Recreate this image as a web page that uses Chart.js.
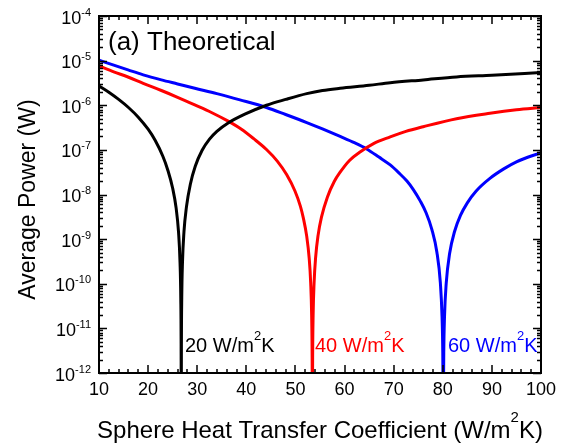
<!DOCTYPE html>
<html>
<head>
<meta charset="utf-8">
<script src="https://cdn.jsdelivr.net/npm/chart.js@4.4.0/dist/chart.umd.min.js"></script>
<style>
  html, body { margin: 0; padding: 0; background: #fff; }
</style>
</head>
<body>
<canvas id="powerChart" width="571" height="444"></canvas>
<script>
// Sphere heat transfer coefficient (W/m^2K) and average power (W)
const h20 = [10, 12, 14, 16, 18, 20, 21.4, 23, 24, 25, 25.7, 26.2, 26.5, 26.65, 26.72, 26.75, 26.78, 26.85, 27.0, 27.3, 27.8, 28.6, 29.6, 31, 32.5, 34, 36.3, 39.7, 44.1, 48, 52.3, 55.5, 59.1, 65, 69.3, 76, 82.8, 90, 100];
const p20 = [2.7e-6, 1.95e-6, 1.35e-6, 8.9e-7, 5.4e-7, 2.9e-7, 1.66e-7, 7.2e-8, 3.55e-8, 1.38e-8, 5.0e-9, 1.41e-9, 3.0e-10, 4.8e-11, 4.3e-12, 1e-13, 4.3e-12, 4.8e-11, 3.0e-10, 1.45e-9, 5.2e-9, 1.7e-8, 4.3e-8, 9.8e-8, 1.74e-7, 2.6e-7, 4.0e-7, 6.3e-7, 1.0e-6, 1.35e-6, 1.82e-6, 2.14e-6, 2.4e-6, 2.8e-6, 3.2e-6, 3.7e-6, 4.3e-6, 4.7e-6, 5.4e-6];

const h40 = [10, 13, 15.9, 19, 22.7, 26, 29.5, 33, 36.3, 39, 41.5, 44.1, 46.3, 48.2, 49.9, 51, 51.6, 52.3, 52.8, 53.1, 53.3, 53.4, 53.45, 53.5, 53.6, 53.8, 54.1, 54.6, 55.3, 56.5, 57.9, 59.1, 61, 63, 65.9, 69.3, 72.5, 76, 82.8, 89.6, 95, 100];
const p40 = [7.6e-6, 5.6e-6, 4.3e-6, 3.1e-6, 2.14e-6, 1.51e-6, 1.02e-6, 6.8e-7, 4.4e-7, 2.9e-7, 1.78e-7, 1.02e-7, 5.6e-8, 2.8e-8, 1.2e-8, 5.5e-9, 3.0e-9, 1.15e-9, 3.7e-10, 1.07e-10, 1.95e-11, 2.2e-12, 1e-13, 2.2e-12, 1.95e-11, 1.07e-10, 3.8e-10, 1.2e-9, 3.1e-9, 8.7e-9, 1.95e-8, 3.16e-8, 5.8e-8, 8.7e-8, 1.38e-7, 1.95e-7, 2.6e-7, 3.3e-7, 5.0e-7, 6.6e-7, 7.9e-7, 8.9e-7];

const h60 = [10, 13, 15.9, 19, 22.7, 26, 29.5, 34, 38.7, 44.1, 48, 52.3, 55.5, 59.1, 62, 64.5, 67, 69.3, 71, 72.7, 74, 75.4, 76.6, 77.8, 78.8, 79.5, 79.85, 80.0, 80.1, 80.2, 80.35, 80.7, 81.4, 82.4, 83.6, 85, 86.8, 89.6, 92.5, 95, 100];
const p60 = [1.02e-5, 7.9e-6, 6.2e-6, 4.8e-6, 3.7e-6, 3.0e-6, 2.4e-6, 1.82e-6, 1.32e-6, 8.9e-7, 6.2e-7, 4.1e-7, 2.95e-7, 2.0e-7, 1.45e-7, 1.05e-7, 6.9e-8, 4.6e-8, 3.1e-8, 2.0e-8, 1.29e-8, 7.2e-9, 3.9e-9, 1.62e-9, 5.1e-10, 1.07e-10, 1.82e-11, 2.9e-12, 1e-13, 2.8e-12, 1.78e-11, 1.02e-10, 4.8e-10, 1.48e-9, 3.4e-9, 6.5e-9, 1.2e-8, 2.3e-8, 3.8e-8, 5.4e-8, 8.7e-8];

const xTicks = [10, 20, 30, 40, 50, 60, 70, 80, 90, 100];
const yExponents = [-12, -11, -10, -9, -8, -7, -6, -5, -4];

const FONT = 'Arial, "Liberation Sans", sans-serif';

function toPoints(xs, ys) {
    return xs.map((x, i) => ({ x: x, y: ys[i] }));
}

// draws a run of text pieces [text, size, rise] one after another
function drawRich(ctx, pieces, x, y, align) {
    let w = 0;
    pieces.forEach(p => {
        ctx.font = p[1] + 'px ' + FONT;
        w += ctx.measureText(p[0]).width;
    });
    let cx = align === 'center' ? x - w / 2 : (align === 'right' ? x - w : x);
    ctx.textAlign = 'left';
    ctx.textBaseline = 'alphabetic';
    pieces.forEach(p => {
        ctx.font = p[1] + 'px ' + FONT;
        ctx.fillText(p[0], cx, y - p[2]);
        cx += ctx.measureText(p[0]).width;
    });
}

const framePlugin = {
    id: 'framePlugin',
    afterDatasetsDraw(chart) {
        const ctx = chart.ctx;
        const a = chart.chartArea;
        const xs = chart.scales.x;
        const ys = chart.scales.y;
        ctx.save();
        ctx.strokeStyle = '#000';
        ctx.fillStyle = '#000';

        // inward ticks on all four sides
        ctx.lineWidth = 1.5;
        ctx.beginPath();
        for (let v = 10; v <= 100; v += 2) {
            const px = Math.round(xs.getPixelForValue(v));
            const len = v % 10 === 0 ? 8 : 4;
            ctx.moveTo(px, a.bottom); ctx.lineTo(px, a.bottom - len);
            ctx.moveTo(px, a.top); ctx.lineTo(px, a.top + len);
        }
        yExponents.forEach(e => {
            for (let m = 1; m <= 9; m++) {
                if (e === -4 && m > 1) break;
                const py = Math.round(ys.getPixelForValue(m * Math.pow(10, e))) + 0.5;
                const len = m === 1 ? 8 : 4;
                ctx.moveTo(a.left, py); ctx.lineTo(a.left + len, py);
                ctx.moveTo(a.right, py); ctx.lineTo(a.right - len, py);
            }
        });
        ctx.stroke();

        ctx.lineWidth = 2;
        ctx.strokeRect(a.left, a.top, a.right - a.left, a.bottom - a.top);

        // tick labels
        xTicks.forEach(v => {
            drawRich(ctx, [[String(v), 18, 0]], xs.getPixelForValue(v), 395, 'center');
        });
        yExponents.forEach(e => {
            const py = ys.getPixelForValue(Math.pow(10, e));
            drawRich(ctx, [['10', 18, 0], [String(e), 11, 8]], 91, py + 7.5, 'right');
        });

        // axis titles
        drawRich(ctx, [['Sphere Heat Transfer Coefficient (W/m', 24, 0], ['2', 15, 16], ['K)', 24, 0]], (a.left + a.right) / 2, 438, 'center');
        ctx.save();
        ctx.translate(35, (a.top + a.bottom) / 2 + 5);
        ctx.rotate(-Math.PI / 2);
        drawRich(ctx, [['Average Power (W)', 23, 0]], 0, 0, 'center');
        ctx.restore();

        // annotations
        drawRich(ctx, [['(a) Theoretical', 26, 0]], 108, 50, 'left');
        ctx.fillStyle = '#000';
        drawRich(ctx, [['20 W/m', 20, 0], ['2', 13, 12], ['K', 20, 0]], 185, 352, 'left');
        ctx.fillStyle = '#ff0000';
        drawRich(ctx, [['40 W/m', 20, 0], ['2', 13, 12], ['K', 20, 0]], 315, 352, 'left');
        ctx.fillStyle = '#0000ff';
        drawRich(ctx, [['60 W/m', 20, 0], ['2', 13, 12], ['K', 20, 0]], 448, 352, 'left');
        ctx.restore();
    }
};

const powerCtx = document.getElementById('powerChart').getContext('2d');
const powerChart = new Chart(powerCtx, {
    type: 'line',
    data: {
        datasets: [{
            label: '20 W/m²K',
            data: toPoints(h20, p20),
            borderColor: '#000000',
            borderWidth: 3,
            pointRadius: 0,
            cubicInterpolationMode: 'monotone'
        }, {
            label: '40 W/m²K',
            data: toPoints(h40, p40),
            borderColor: '#ff0000',
            borderWidth: 3,
            pointRadius: 0,
            cubicInterpolationMode: 'monotone'
        }, {
            label: '60 W/m²K',
            data: toPoints(h60, p60),
            borderColor: '#0000ff',
            borderWidth: 3,
            pointRadius: 0,
            cubicInterpolationMode: 'monotone'
        }]
    },
    options: {
        responsive: false,
        animation: false,
        devicePixelRatio: 1,
        layout: {
            padding: { left: 99, top: 16, right: 30, bottom: 71 }
        },
        scales: {
            x: {
                type: 'linear',
                min: 10,
                max: 100,
                display: false
            },
            y: {
                type: 'logarithmic',
                min: 1e-12,
                max: 1e-4,
                display: false
            }
        },
        plugins: {
            legend: { display: false },
            tooltip: { enabled: false }
        }
    },
    plugins: [framePlugin]
});
</script>
</body>
</html>
